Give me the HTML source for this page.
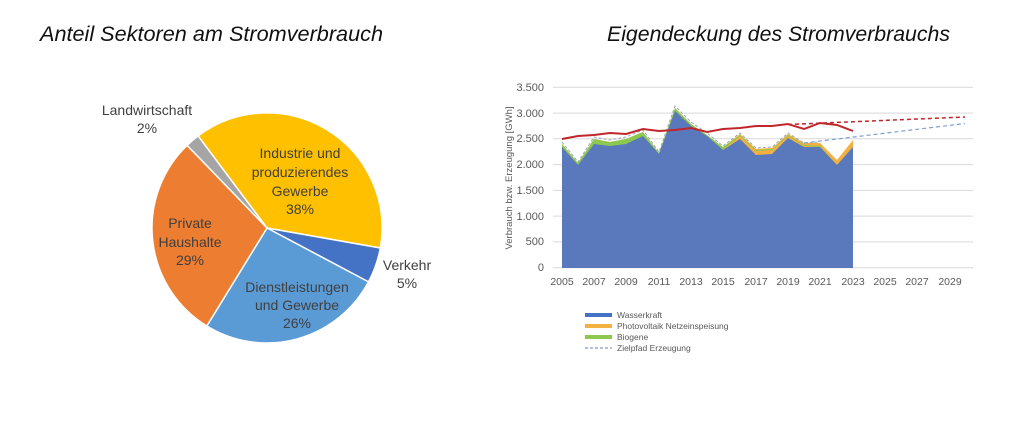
<!DOCTYPE html>
<html><head><meta charset="utf-8"><style>
html,body{margin:0;padding:0;background:#fff;}
svg{display:block;font-family:"Liberation Sans",sans-serif;}
</style></head><body>
<svg width="1033" height="431" viewBox="0 0 1033 431" xmlns="http://www.w3.org/2000/svg">
<rect width="1033" height="431" fill="#fff"/>
<text x="40" y="41" font-size="21.5" font-style="italic" fill="#111" textLength="343" lengthAdjust="spacingAndGlyphs">Anteil Sektoren am Stromverbrauch</text>
<text x="607" y="41" font-size="21.5" font-style="italic" fill="#111" textLength="343" lengthAdjust="spacingAndGlyphs">Eigendeckung des Stromverbrauchs</text>
<!-- pie -->
<g stroke="#fff" stroke-width="1.5">
<path d="M267 228 L198.1 135.9 A115 115 0 0 1 380.3 248 Z" fill="#FFC000"/>
<path d="M267 228 L380.3 248 A115 115 0 0 1 368.5 281.9 Z" fill="#4472C4"/>
<path d="M267 228 L368.5 281.9 A115 115 0 0 1 206.8 326 Z" fill="#5B9BD5"/>
<path d="M267 228 L206.8 326 A115 115 0 0 1 187.1 145.3 Z" fill="#ED7D31"/>
<path d="M267 228 L187.1 145.3 A115 115 0 0 1 198.1 135.9 Z" fill="#A5A5A5"/>
</g>
<g font-size="14" fill="#404040" text-anchor="middle">
<text x="300" y="158">Industrie und</text>
<text x="300" y="177">produzierendes</text>
<text x="300" y="196">Gewerbe</text>
<text x="300" y="214">38%</text>
<text x="190" y="228">Private</text>
<text x="190" y="247">Haushalte</text>
<text x="190" y="265">29%</text>
<text x="297" y="292">Dienstleistungen</text>
<text x="297" y="310">und Gewerbe</text>
<text x="297" y="328">26%</text>
<text x="407" y="270">Verkehr</text>
<text x="407" y="288">5%</text>
<text x="147" y="115">Landwirtschaft</text>
<text x="147" y="133">2%</text>
</g>
<!-- right chart -->
<g stroke="#d9d9d9" stroke-width="1">
<line x1="553" y1="87.3" x2="973" y2="87.3"/>
<line x1="553" y1="113.1" x2="973" y2="113.1"/>
<line x1="553" y1="138.8" x2="973" y2="138.8"/>
<line x1="553" y1="164.6" x2="973" y2="164.6"/>
<line x1="553" y1="190.4" x2="973" y2="190.4"/>
<line x1="553" y1="216.1" x2="973" y2="216.1"/>
<line x1="553" y1="241.9" x2="973" y2="241.9"/>
<line x1="553" y1="267.7" x2="973" y2="267.7"/>
</g>
<g font-size="11" fill="#595959" text-anchor="end">
<text x="544" y="91">3.500</text><text x="544" y="117">3.000</text><text x="544" y="142">2.500</text>
<text x="544" y="168">2.000</text><text x="544" y="194">1.500</text><text x="544" y="220">1.000</text>
<text x="544" y="245">500</text><text x="544" y="271">0</text>
</g>
<g font-size="10.5" fill="#595959" text-anchor="middle">
<text x="562" y="285">2005</text><text x="594" y="285">2007</text><text x="626" y="285">2009</text>
<text x="659" y="285">2011</text><text x="691" y="285">2013</text><text x="723" y="285">2015</text>
<text x="756" y="285">2017</text><text x="788" y="285">2019</text><text x="820" y="285">2021</text>
<text x="853" y="285">2023</text><text x="885" y="285">2025</text><text x="917" y="285">2027</text>
<text x="950" y="285">2029</text>
</g>
<text transform="translate(512,178) rotate(-90)" font-size="9.5" fill="#595959" text-anchor="middle">Verbrauch bzw. Erzeugung [GWh]</text>
<polyline fill="#F4B040" stroke="none" points="562,144 578,163 594,139 610,142 626,139 643,132 659,153 675,108 691,124 707,135 723,147 740,134 756,149 772,148 788,134 804,143 820,143 837,160 853,140 853,268 562,268"/>
<polyline fill="#8CC850" stroke="none" points="562,144 578,163 594,139 610,142 626,139 643,132 659,153 675,108 691,124 707,135 723,147 740,135 756,150 772,149 788,135 804,145 820,146 837,165 853,145 853,268 562,268"/>
<polygon fill="#F4B040" points="723,150 740,136 756,151 772,150 788,136 804,146 820,147 837,165 853,145 853,268 723,268"/>
<polygon fill="#5A78BC" points="562,147 578,165 594,144 610,146 626,144 643,136 659,154 675,111 691,126 707,136 723,150 740,139 756,155 772,154 788,138 804,147 820,147 837,165 853,147 853,268 562,268"/>
<polyline fill="none" stroke="#9aa7b8" stroke-width="1" stroke-dasharray="3,2" points="562,142 578,162 594,137 610,140 626,137 643,130 659,152 675,106 691,122 707,133 723,146 740,133 756,148 772,147 788,133 804,143 820,142"/>
<line x1="804" y1="143" x2="965" y2="123.5" stroke="#7f9fd0" stroke-width="1.2" stroke-dasharray="4,3"/>
<line x1="788" y1="124.5" x2="965" y2="117" stroke="#C0262B" stroke-width="1.5" stroke-dasharray="4,3"/>
<polyline fill="none" stroke="#C0262B" stroke-width="2" points="562,139 578,136 594,135 610,133 626,134 643,129 659,131 675,130 691,128 707,132 723,129 740,128 756,126 772,126 788,124 804,129 820,123 837,125 853,131"/>
<!-- legend -->
<rect x="585" y="313" width="27" height="4" fill="#4472C4"/>
<text x="617" y="318" font-size="8.5" fill="#595959">Wasserkraft</text>
<rect x="585" y="324" width="27" height="4" fill="#F4B040"/>
<text x="617" y="329" font-size="8.5" fill="#595959">Photovoltaik Netzeinspeisung</text>
<rect x="585" y="335" width="27" height="4" fill="#8CC850"/>
<text x="617" y="340" font-size="8.5" fill="#595959">Biogene</text>
<line x1="585" y1="348" x2="612" y2="348" stroke="#6f7fb8" stroke-width="1" stroke-dasharray="3,2"/>
<text x="617" y="351" font-size="8.5" fill="#595959">Zielpfad Erzeugung</text>
</svg>
</body></html>
